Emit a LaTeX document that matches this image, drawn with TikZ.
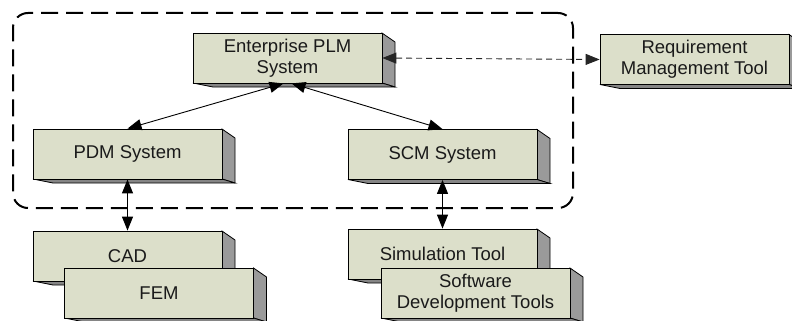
\documentclass[tikz,border=0pt]{standalone}
\usepackage{fontspec}
\setmainfont{Liberation Sans}
\usetikzlibrary{arrows.meta,calc}

\definecolor{facefill}{HTML}{DCDFCA}
\definecolor{sidefill}{HTML}{9A9A9A}
\definecolor{bottomfill}{HTML}{858585}
\definecolor{textcol}{HTML}{1A1A1A}

\tikzset{
  face/.style={draw=black, line width=0.8pt, fill=facefill, rectangle,
    minimum width=189pt, minimum height=50pt, inner sep=0pt,
    align=center, text=textcol,
    font=\fontsize{18.5pt}{21pt}\selectfont},
  sideface/.style={draw=black, line width=0.8pt, fill=sidefill},
  bottomface/.style={draw=black, line width=0.8pt, fill=bottomfill},
  link/.style={line width=0.9pt, draw=black,
    {Triangle[length=14pt,width=11pt]}-{Triangle[length=14pt,width=11pt]}},
  dashlink/.style={link, draw=black!85, dash pattern=on 6pt off 4pt},
  groupframe/.style={draw=black, line width=2pt, dash pattern=on 17pt off 8pt,
    rounded corners=15pt, rectangle, minimum width=560pt, minimum height=195pt}
}

% extruded box: name, centre x, centre y, label
\newcommand{\extrudedbox}[4]{%
  \begin{scope}[shift={(#2,#3)}]
    \path[sideface] (94.5,-25) -- (107.5,-16) -- (107.5,29) -- (94.5,25) -- cycle;
    \path[bottomface] (-94.5,25) -- (94.5,25) -- (107.5,29) -- (-74.5,29) -- cycle;
  \end{scope}
  \node[face] (#1) at (#2,#3) {#4};
}

\begin{document}
\begin{tikzpicture}[x=1pt, y=-1pt]
  \useasboundingbox (0,0) rectangle (792,321);

  % PLM environment boundary
  \node[groupframe] (plmframe) at (293,110.5) {};

  % systems
  \extrudedbox{ent}{287.5}{58}{Enterprise PLM\\System}
  \extrudedbox{req}{694.5}{59.5}{Requirement\\Management Tool}
  \extrudedbox{pdm}{127.5}{154}{PDM System}
  \extrudedbox{scm}{442.5}{154.5}{SCM System}

  % authoring tools
  \extrudedbox{cad}{127.5}{256}{CAD}
  \extrudedbox{fem}{159}{293}{FEM}
  \extrudedbox{sim}{442.5}{254}{Simulation Tool}
  \extrudedbox{sdt}{475.5}{293}{Software\\Development Tools}

  % connections
  \draw[dashlink] (ent.east) -- (req.west);
  \draw[link] ($(ent.south)+(-4,0)$) -- (pdm.north);
  \draw[link] ($(ent.south)+(4,0)$) -- (scm.north);
  \draw[link] (pdm.south) -- (cad.north);
  \draw[link] (scm.south) -- (sim.north);
\end{tikzpicture}
\end{document}
